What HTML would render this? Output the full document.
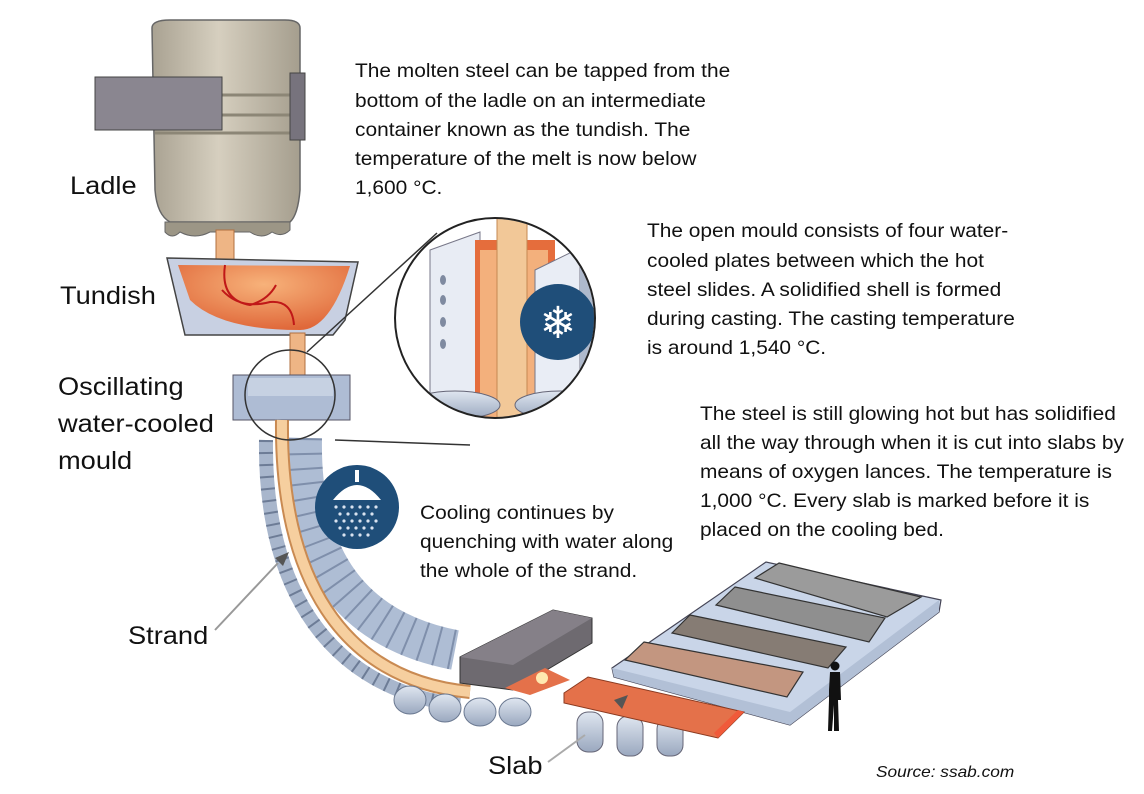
<!DOCTYPE html>
<html><head><meta charset="utf-8"><style>
html,body{margin:0;padding:0;background:#fff;}
body{width:1144px;height:794px;overflow:hidden;position:relative;font-family:"Liberation Sans",sans-serif;}
svg{position:absolute;left:0;top:0;}
.t{font-family:"Liberation Sans",sans-serif;font-size:19px;fill:#111;}
.l{font-family:"Liberation Sans",sans-serif;font-size:25px;fill:#111;}
</style></head><body>
<svg width="1144" height="794" viewBox="0 0 1144 794">
<defs>
<linearGradient id="lad" x1="0" x2="1"><stop offset="0" stop-color="#a9a292"/><stop offset=".45" stop-color="#d6cfbf"/><stop offset="1" stop-color="#a59e8e"/></linearGradient>
<linearGradient id="roll" x1="0" y1="0" x2="0" y2="1"><stop offset="0" stop-color="#dfe6f0"/><stop offset="1" stop-color="#9aa8bf"/></linearGradient>
<radialGradient id="molten" cx=".5" cy=".3" r=".7"><stop offset="0" stop-color="#f7b27a"/><stop offset="1" stop-color="#e0683a"/></radialGradient>
</defs>
<!-- ladle -->
<path d="M152,28 Q152,20 170,20 L285,20 Q300,20 300,28 L300,190 Q298,215 290,222 L170,222 Q157,215 155,190 Z" fill="url(#lad)" stroke="#666" stroke-width="1.5"/>
<path d="M165,222 L165,232 Q172,240 180,232 Q195,240 210,232 L250,232 Q262,240 272,232 Q282,238 290,230 L290,222 Z" fill="#9c9686" stroke="#666"/>
<path d="M155,95 L300,95 M155,115 L300,115 M155,133 L300,133" stroke="#8c8676" stroke-width="3" fill="none"/>
<rect x="290" y="73" width="15" height="67" fill="#77737d" stroke="#444"/>
<rect x="95" y="77" width="127" height="53" fill="#8a8690" stroke="#444"/>
<rect x="216" y="230" width="18" height="30" fill="#eeb585" stroke="#b07040"/>
<!-- tundish -->
<polygon points="167,258 358,262 345,320 333,335 185,335" fill="#c8d0e2" stroke="#444" stroke-width="1.5"/>
<path d="M178,265 L350,266 Q330,330 300,330 Q220,330 190,300 Z" fill="url(#molten)"/>
<path d="M225,265 Q220,300 250,305 Q268,300 276,285 M222,290 Q240,310 270,302 Q292,300 294,325" fill="none" stroke="#c01818" stroke-width="2"/>
<rect x="290" y="333" width="15" height="42" fill="#eeb585" stroke="#b07040"/>
<!-- mould -->
<rect x="233" y="375" width="117" height="45" fill="#aebcd4" stroke="#556"/>
<rect x="248" y="378" width="85" height="18" fill="#c6d1e2"/>
<!-- outer rollers -->
<path d="M266,440 C264,590 330,690 460,705" fill="none" stroke="#a8b6cc" stroke-width="14"/>
<path d="M266,440 C264,590 330,690 460,705" fill="none" stroke="#6d7c96" stroke-width="14" stroke-dasharray="2 10"/>
<!-- inner rollers -->
<path d="M302,438 C300,545 340,628 455,650" fill="none" stroke="#aebdd4" stroke-width="40"/>
<path d="M302,438 C300,545 340,628 455,650" fill="none" stroke="#7f8fab" stroke-width="40" stroke-dasharray="2 13"/>
<!-- strand -->
<path d="M282,420 C280,575 340,680 470,692" fill="none" stroke="#c98a52" stroke-width="14"/>
<path d="M282,420 C280,575 340,680 470,692" fill="none" stroke="#f6cf9f" stroke-width="10"/>
<!-- lower rollers -->
<g fill="url(#roll)" stroke="#6a7890">
<ellipse cx="410" cy="700" rx="16" ry="14"/><ellipse cx="445" cy="708" rx="16" ry="14"/><ellipse cx="480" cy="712" rx="16" ry="14"/><ellipse cx="515" cy="712" rx="16" ry="14"/>
</g>
<!-- cutter -->
<polygon points="460,657 553,610 592,618 592,643 513,690 460,683" fill="#6e6a70" stroke="#333"/>
<polygon points="460,657 553,610 592,618 513,665" fill="#858088"/>
<polygon points="505,688 545,668 570,680 530,695" fill="#e4714a"/>
<circle cx="542" cy="678" r="6" fill="#ffe9b0"/>
<!-- magnifier -->
<circle cx="290" cy="395" r="45" fill="none" stroke="#333" stroke-width="1.5"/>
<line x1="307" y1="352" x2="437" y2="233" stroke="#333" stroke-width="1.5"/>
<line x1="335" y1="440" x2="470" y2="445" stroke="#333" stroke-width="1.5"/>
<circle cx="495" cy="318" r="100" fill="#fff"/>
<clipPath id="bc"><circle cx="495" cy="318" r="99"/></clipPath>
<g clip-path="url(#bc)">
<polygon points="430,250 480,232 480,392 430,410" fill="#e8ecf4" stroke="#778"/>
<rect x="475" y="240" width="80" height="170" fill="#e56d3c"/>
<rect x="480" y="250" width="68" height="170" fill="#f3b07c"/>
<rect x="497" y="205" width="30" height="215" fill="#f2c898" stroke="#c48852"/>
<polygon points="535,270 580,248 580,390 535,410" fill="#e9edf5" stroke="#778"/>
<polygon points="580,248 600,240 600,380 580,390" fill="#aeb9cc"/>
<g fill="#7f8aa0"><ellipse cx="443" cy="300" rx="3" ry="5"/><ellipse cx="443" cy="322" rx="3" ry="5"/><ellipse cx="443" cy="344" rx="3" ry="5"/><ellipse cx="443" cy="280" rx="3" ry="5"/></g>
<ellipse cx="455" cy="405" rx="45" ry="14" fill="url(#roll)" stroke="#667"/>
<ellipse cx="560" cy="405" rx="45" ry="14" fill="url(#roll)" stroke="#667"/>
<circle cx="558" cy="322" r="38" fill="#1f4e79"/>
<text x="558" y="338" text-anchor="middle" font-size="44" fill="#fff" font-family="DejaVu Sans">❄</text>
</g>
<circle cx="495" cy="318" r="100" fill="none" stroke="#222" stroke-width="2"/>
<!-- shower icon -->
<circle cx="357" cy="507" r="42" fill="#1f4e79"/>
<rect x="355" y="470" width="4" height="12" fill="#fff"/>
<path d="M333,500 Q357,470 381,500 Z" fill="#fff"/>
<g fill="#d9e3f0">
<circle cx="336" cy="507" r="1.6"/><circle cx="344" cy="507" r="1.6"/><circle cx="352" cy="507" r="1.6"/><circle cx="360" cy="507" r="1.6"/><circle cx="368" cy="507" r="1.6"/><circle cx="376" cy="507" r="1.6"/>
<circle cx="340" cy="514" r="1.6"/><circle cx="348" cy="514" r="1.6"/><circle cx="356" cy="514" r="1.6"/><circle cx="364" cy="514" r="1.6"/><circle cx="372" cy="514" r="1.6"/>
<circle cx="336" cy="521" r="1.6"/><circle cx="344" cy="521" r="1.6"/><circle cx="352" cy="521" r="1.6"/><circle cx="360" cy="521" r="1.6"/><circle cx="368" cy="521" r="1.6"/><circle cx="376" cy="521" r="1.6"/>
<circle cx="340" cy="528" r="1.6"/><circle cx="348" cy="528" r="1.6"/><circle cx="356" cy="528" r="1.6"/><circle cx="364" cy="528" r="1.6"/><circle cx="372" cy="528" r="1.6"/>
<circle cx="344" cy="535" r="1.6"/><circle cx="352" cy="535" r="1.6"/><circle cx="360" cy="535" r="1.6"/><circle cx="368" cy="535" r="1.6"/>
</g>
<!-- cooling bed platform -->
<polygon points="612,668 766,562 941,600 939,612 790,725 614,677" fill="#c9d5e8" stroke="#445" stroke-width="1.2"/>
<polygon points="614,677 790,725 939,612 939,600 790,712 612,668" fill="#b2c0d6" stroke="none"/>
<!-- slabs -->
<g stroke="#333" stroke-width="1.2">
<polygon points="779,563 921,597 887,617 755,578" fill="#9b9b9b"/>
<polygon points="735,587 885,618 869,642 716,605" fill="#8f8f8f"/>
<polygon points="690,615 846,647 828,668 672,633" fill="#867c74"/>
<polygon points="644,642 803,672 787,697 625,660" fill="#c39680"/>
</g>
<!-- rollers under slab -->
<g fill="url(#roll)" stroke="#667">
<rect x="577" y="712" width="26" height="40" rx="11"/><rect x="617" y="716" width="26" height="40" rx="11"/><rect x="657" y="718" width="26" height="38" rx="11"/>
</g>
<polygon points="564,693 588,677 744,712 718,738 564,703" fill="#e4714a" stroke="#8a3a20"/>
<polygon points="744,712 718,738 714,733 738,710" fill="#f05a3a"/>
<polygon points="614,700 628,695 622,709" fill="#555"/>
<!-- person -->
<circle cx="835" cy="666" r="4.5" fill="#111"/>
<path d="M830,672 L840,672 L841,700 L838,700 L839,731 L834,731 L834,705 L832,731 L828,731 L829,700 L829,690 Z" fill="#111"/>
<!-- label pointers -->
<line x1="215" y1="630" x2="278" y2="563" stroke="#999" stroke-width="2"/>
<polygon points="289,552 275,558 283,566" fill="#555"/>
<line x1="548" y1="762" x2="585" y2="735" stroke="#aaa" stroke-width="2"/>
<!-- labels -->
<g transform="translate(70,194) scale(1.09,1)"><text class="l" x="0" y="0">Ladle</text></g>
<g transform="translate(60,304) scale(1.09,1)"><text class="l" x="0" y="0">Tundish</text></g>
<g transform="translate(58,395) scale(1.09,1)"><text class="l" x="0" y="0">Oscillating</text></g>
<g transform="translate(58,432) scale(1.09,1)"><text class="l" x="0" y="0">water-cooled</text></g>
<g transform="translate(58,469) scale(1.09,1)"><text class="l" x="0" y="0">mould</text></g>
<g transform="translate(128,644) scale(1.09,1)"><text class="l" x="0" y="0">Strand</text></g>
<g transform="translate(488,774) scale(1.09,1)"><text class="l" x="0" y="0">Slab</text></g>
<g transform="translate(876,777) scale(1.08,1)"><text x="0" y="0" font-size="16" font-style="italic" fill="#111" font-family="Liberation Sans">Source: ssab.com</text></g>
<g transform="translate(355,0) scale(1.1,1)">
<text class="t" x="0" y="77">The molten steel can be tapped from the</text>
<text class="t" x="0" y="107">bottom of the ladle on an intermediate</text>
<text class="t" x="0" y="136">container known as the tundish. The</text>
<text class="t" x="0" y="165">temperature of the melt is now below</text>
<text class="t" x="0" y="194">1,600 °C.</text>
</g>
<g transform="translate(647,0) scale(1.1,1)">
<text class="t" x="0" y="237">The open mould consists of four water-</text>
<text class="t" x="0" y="267">cooled plates between which the hot</text>
<text class="t" x="0" y="296">steel slides. A solidified shell is formed</text>
<text class="t" x="0" y="325">during casting. The casting temperature</text>
<text class="t" x="0" y="354">is around 1,540 °C.</text>
</g>
<g transform="translate(700,0) scale(1.1,1)">
<text class="t" x="0" y="420">The steel is still glowing hot but has solidified</text>
<text class="t" x="0" y="449">all the way through when it is cut into slabs by</text>
<text class="t" x="0" y="478">means of oxygen lances. The temperature is</text>
<text class="t" x="0" y="507">1,000 °C. Every slab is marked before it is</text>
<text class="t" x="0" y="536">placed on the cooling bed.</text>
</g>
<g transform="translate(420,0) scale(1.1,1)">
<text class="t" x="0" y="519">Cooling continues by</text>
<text class="t" x="0" y="548">quenching with water along</text>
<text class="t" x="0" y="577">the whole of the strand.</text>
</g>
</svg>
</body></html>
